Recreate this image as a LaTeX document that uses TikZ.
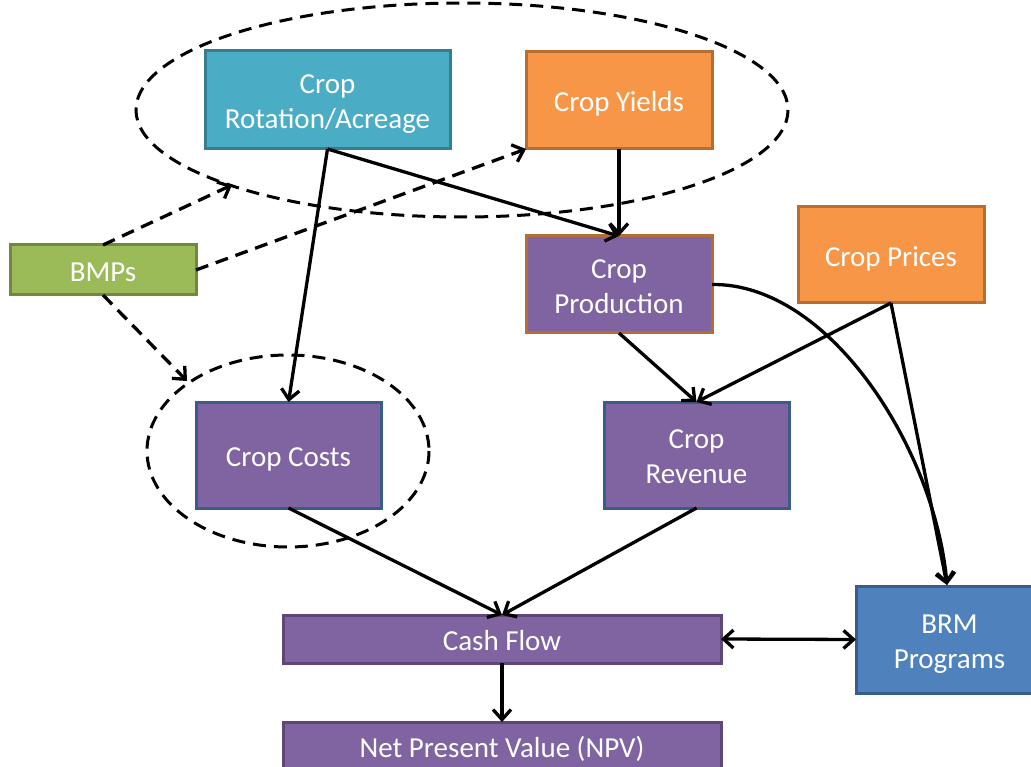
\documentclass[tikz,border=0pt]{standalone}
\usepackage{fontspec}
\setmainfont{Carlito}
\usetikzlibrary{arrows.meta}
\definecolor{tealF}{HTML}{4BACC6}\definecolor{tealB}{HTML}{357D91}
\definecolor{orgF}{HTML}{F79646}\definecolor{orgB}{HTML}{B66D31}
\definecolor{purF}{HTML}{8064A2}\definecolor{purB}{HTML}{5C4776}
\definecolor{grnF}{HTML}{9BBB59}\definecolor{grnB}{HTML}{71893F}
\definecolor{bluF}{HTML}{4F81BD}\definecolor{bluB}{HTML}{385D8A}
\newcommand{\bt}[1]{\raisebox{-10.5pt}[0pt][0pt]{\begin{tabular}{@{}c@{}}#1\end{tabular}}}
\tikzset{
  box/.style={rectangle, line width=3pt, text=white,
    font=\fontsize{29}{35}\selectfont, inner sep=0pt, outer sep=0pt},
  conn/.style={line width=3.3pt, -{Straight Barb[length=10pt,width=18pt]}},
  dconn/.style={conn, dash pattern=on 13pt off 8pt},
  oval/.style={line width=3pt, dash pattern=on 13pt off 8pt},
}
\begin{document}
\begin{tikzpicture}[x=1pt,y=-1pt]
\useasboundingbox (0,0) rectangle (1031,767);
% ellipses
\draw[oval] (462,110) ellipse [x radius=326, y radius=107];
\draw[oval] (288,451) ellipse [x radius=141, y radius=96];
% boxes
\node[box, fill=tealF, draw=tealB, minimum width=245pt, minimum height=98pt] (rot) at (327.5,100) {\bt{Crop\\Rotation/Acreage}};
\node[box, fill=orgF, draw=orgB, minimum width=186pt, minimum height=97pt] (yld) at (619,100.5) {\bt{Crop Yields}};
\node[box, fill=purF, draw=orgB, minimum width=186pt, minimum height=97pt] (prod) at (619,284.5) {\bt{Crop\\Production}};
\node[box, fill=orgF, draw=orgB, minimum width=186pt, minimum height=96pt] (price) at (891,255) {\bt{Crop Prices}};
\node[box, fill=grnF, draw=grnB, minimum width=186pt, minimum height=50pt] (bmp) at (103,270) {\bt{BMPs}};
\node[box, fill=purF, draw=bluB, minimum width=185pt, minimum height=106pt] (cost) at (288.5,455) {\bt{Crop Costs}};
\node[box, fill=purF, draw=bluB, minimum width=185pt, minimum height=106pt] (rev) at (696.5,455) {\bt{Crop\\Revenue}};
\node[box, fill=purF, draw=purB, minimum width=438pt, minimum height=48pt] (cash) at (502,639) {\bt{Cash Flow}};
\node[box, fill=bluF, draw=bluB, minimum width=187pt, minimum height=107pt] (brm) at (949.5,639.5) {\bt{BRM\\Programs}};
\node[box, fill=purF, draw=purB, minimum width=438pt, minimum height=48pt] (npv) at (502,746) {\bt{Net Present Value (NPV)}};
% free ends on the ellipses
\coordinate (e1) at (232,185);
\coordinate (e2) at (187,381);
\coordinate (brmIn) at (947,585);
% dashed connectors
\draw[dconn] (bmp.north) -- (e1);
\draw[dconn] (bmp.east) -- (yld.south west);
\draw[dconn] (bmp.south) -- (e2);
% solid connectors
\draw[conn] (rot.south) -- (cost.north);
\draw[conn] (rot.south) -- (prod.north);
\draw[conn] (yld.south) -- (prod.north);
\draw[conn] (prod.south) -- (rev.north);
\draw[conn] (price.south) -- (rev.north);
\draw[conn] (price.south) -- (brmIn);
\draw[conn] (prod.east) .. controls (830,283) and (935,450) .. (brmIn);
\draw[conn] (cost.south) -- (cash.north);
\draw[conn] (rev.south) -- (cash.north);
\draw[conn] (cash.south) -- (npv.north);
\draw[line width=3.3pt, {Straight Barb[length=10pt,width=18pt]}-{Straight Barb[length=10pt,width=18pt]}] (cash.east) -- (brm.west);
\end{tikzpicture}
\end{document}
